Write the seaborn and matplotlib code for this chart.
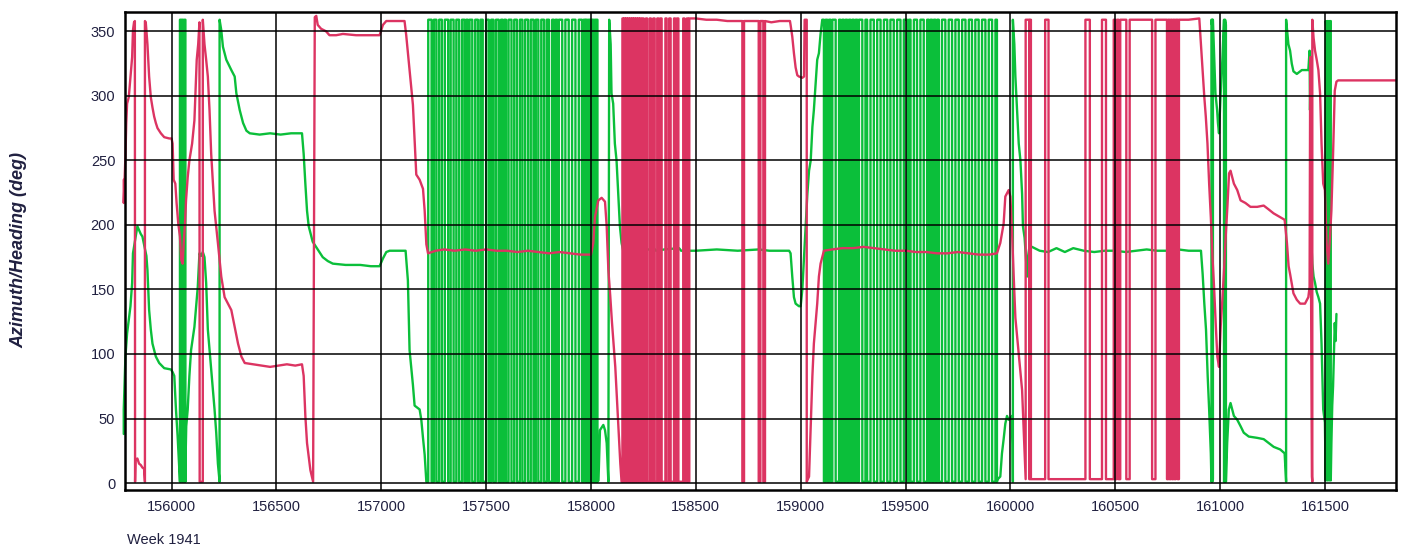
import matplotlib
matplotlib.use("Agg")
import matplotlib.pyplot as plt
import seaborn as sns

# time of week (s) / angle (deg)
G_START = [(155772, 38), (155772, 57), (155780, 98), (155788, 116), (155804, 137), (155812, 155),
           (155816, 178), (155837, 199), (155845, 196), (155853, 193), (155861, 191), (155880, 176),
           (155885, 165), (155893, 134), (155901, 119), (155909, 108), (155925, 98), (155941, 93),
           (155965, 89), (155997, 88), (156005, 86), (156013, 83), (156021, 57), (156029, 36),
           (156037, 10), (156040, 1)]
G_BAND1 = [156040, 156045, 156050, 156055, 156061, 156066]
G_MID = [(156067, 20), (156070, 44), (156077, 57), (156085, 83), (156093, 103), (156109, 121),
         (156125, 152), (156133, 178), (156141, 176), (156149, 179), (156157, 175), (156165, 155),
         (156173, 119), (156189, 88), (156205, 57), (156213, 39), (156221, 15), (156229, 1),
         (156229, 359), (156237, 351), (156245, 338), (156261, 328), (156285, 320), (156301, 315),
         (156309, 302), (156325, 289), (156341, 279), (156357, 273), (156373, 271), (156420, 270),
         (156470, 271), (156520, 270), (156570, 271), (156622, 271), (156630, 255), (156638, 232),
         (156646, 211), (156654, 199), (156673, 187), (156689, 183), (156705, 179), (156721, 175),
         (156745, 172), (156769, 170), (156830, 169), (156900, 169), (156950, 168), (156992, 168),
         (157008, 174), (157024, 179), (157040, 180), (157116, 180), (157127, 157), (157135, 103),
         (157151, 76), (157159, 60), (157183, 57), (157191, 49), (157199, 35), (157207, 22),
         (157215, 1)]
G_BAND2 = [157224, 157240, 157251, 157263, 157276, 157289, 157303, 157319, 157331, 157345,
           157358, 157371, 157385, 157397, 157405, 157413, 157421, 157434, 157448, 157461,
           157473, 157484, 157500, 157513, 157524, 157535, 157547, 157560, 157571, 157579,
           157587, 157595, 157607, 157621, 157634, 157647, 157661, 157673, 157686, 157700,
           157713, 157726, 157737, 157749, 157763, 157776, 157789, 157800, 157815, 157823,
           157831, 157839, 157847, 157863, 157878, 157894, 157910, 157926, 157942, 157957,
           157965, 157973, 157977, 157982, 157988, 157992, 157997, 158003, 158007, 158012,
           158018, 158022, 158027, 158031]
G_AFTER1 = [(158036, 2), (158043, 41), (158059, 45), (158067, 41), (158075, 31), (158083, 1),
            (158087, 359), (158094, 340), (158098, 302), (158106, 294), (158114, 263), (158122, 250),
            (158130, 224), (158138, 199), (158146, 186), (158154, 180), (158162, 175), (158170, 180),
            (158250, 180), (158300, 182), (158310, 180), (158350, 181), (158420, 182), (158430, 180),
            (158500, 180), (158600, 181), (158700, 180), (158800, 181), (158850, 180), (158900, 180),
            (158945, 180), (158952, 178), (158960, 160), (158968, 144), (158976, 139), (158992, 137),
            (159000, 137), (159008, 150), (159016, 175), (159024, 199), (159032, 224), (159040, 242),
            (159048, 250), (159056, 276), (159063, 289), (159079, 328), (159087, 333), (159095, 348),
            (159103, 359)]
G_BAND3 = [159111, 159119, 159127, 159135, 159143, 159151, 159167, 159183, 159190, 159198,
           159206, 159214, 159222, 159230, 159238, 159246, 159254, 159262, 159270, 159278,
           159294, 159309, 159317, 159333, 159349, 159365, 159381, 159397, 159413, 159428,
           159444, 159460, 159476, 159492, 159508, 159516, 159524, 159540, 159555, 159571,
           159587, 159603, 159611, 159619, 159627, 159635, 159643, 159651, 159659, 159674,
           159690, 159706, 159722, 159738, 159754, 159770, 159786, 159802, 159817, 159833,
           159849, 159865, 159881, 159897, 159913, 159929, 159936]
G_AFTER2 = [(159940, 3), (159952, 5), (159960, 23), (159968, 34), (159976, 46), (159984, 52),
            (159992, 49), (160000, 50), (160008, 52), (160011, 30), (160012, 1), (160012, 359),
            (160019, 340), (160024, 315), (160032, 289), (160040, 263), (160048, 250), (160056, 224),
            (160060, 199), (160068, 190), (160074, 175), (160080, 160), (160084, 175), (160090, 182),
            (160103, 183), (160140, 180), (160180, 179), (160220, 182), (160260, 179), (160300, 182),
            (160350, 180), (160400, 179), (160450, 180), (160500, 180), (160550, 179), (160600, 180),
            (160650, 181), (160700, 180), (160750, 180), (160800, 181), (160850, 180), (160909, 180),
            (160917, 162), (160925, 139), (160933, 119), (160941, 83), (160948, 57), (160956, 23),
            (160959, 1), (160959, 359), (160962, 355), (160963, 359), (160963, 1), (160966, 3),
            (160966, 359), (160970, 340), (160978, 302), (160986, 289), (160990, 279), (160995, 271),
            (161003, 302), (161011, 328), (161019, 359), (161019, 1), (161023, 5), (161024, 1),
            (161024, 359), (161028, 355), (161028, 1), (161034, 31), (161042, 57), (161050, 62),
            (161066, 52), (161082, 49), (161098, 44), (161113, 39), (161137, 36), (161177, 35),
            (161208, 34), (161232, 31), (161256, 28), (161287, 26), (161308, 23), (161315, 1),
            (161315, 359), (161326, 340), (161334, 335), (161342, 325), (161350, 319), (161366, 317),
            (161390, 320), (161421, 320), (161427, 335), (161429, 289), (161432, 320), (161436, 185),
            (161440, 170), (161446, 160), (161453, 155), (161461, 148), (161469, 144), (161477, 139),
            (161484, 108), (161492, 57), (161500, 47), (161504, 2), (161504, 358), (161508, 350),
            (161512, 358), (161512, 2), (161516, 8), (161520, 2), (161520, 358), (161524, 352),
            (161528, 358), (161528, 2), (161531, 31), (161535, 60), (161539, 75), (161543, 100),
            (161547, 124), (161551, 110), (161555, 131)]

R_START = [(155772, 235), (155772, 217), (155780, 253), (155784, 279), (155788, 294), (155796, 299),
           (155804, 315), (155812, 330), (155816, 351), (155821, 357), (155825, 358), (155826, 1),
           (155828, 18), (155837, 19), (155845, 15), (155853, 14), (155861, 12), (155869, 11),
           (155873, 1), (155873, 358), (155877, 357), (155885, 340), (155893, 315), (155901, 299),
           (155909, 291), (155917, 284), (155925, 279), (155933, 275), (155949, 271), (155965, 268),
           (155989, 267), (156000, 267), (156005, 263), (156010, 235), (156018, 232), (156024, 217),
           (156032, 201), (156040, 191), (156046, 173), (156053, 170), (156058, 186), (156064, 201),
           (156069, 219), (156077, 237), (156085, 250), (156098, 263), (156109, 281), (156117, 315),
           (156120, 328), (156127, 340), (156133, 357), (156134, 1), (156149, 1), (156149, 359),
           (156157, 340), (156165, 328), (156173, 315), (156181, 289), (156189, 255), (156205, 211),
           (156221, 186), (156237, 160), (156253, 144), (156269, 139), (156285, 134), (156301, 121),
           (156317, 108), (156333, 98), (156349, 93), (156389, 92), (156430, 91), (156470, 90),
           (156510, 91), (156550, 92), (156590, 91), (156622, 92), (156630, 83), (156638, 52),
           (156646, 31), (156662, 10), (156675, 1), (156683, 361), (156690, 362), (156697, 355),
           (156713, 352), (156737, 350), (156753, 347), (156785, 347), (156817, 348), (156880, 347),
           (156960, 347), (156992, 347), (157008, 355), (157024, 358), (157060, 358), (157111, 358),
           (157119, 347), (157135, 320), (157151, 293), (157159, 266), (157167, 239), (157183, 235),
           (157199, 228), (157207, 211), (157215, 185), (157223, 178), (157260, 180), (157300, 181),
           (157350, 180), (157400, 181), (157450, 180), (157500, 181), (157550, 180), (157600, 180),
           (157650, 179), (157700, 180), (157750, 179), (157800, 178), (157850, 179), (157900, 178),
           (157950, 177), (158000, 177), (158011, 186), (158019, 206), (158035, 219), (158051, 221),
           (158067, 218), (158075, 199), (158083, 165), (158092, 145), (158100, 125), (158108, 108),
           (158116, 90), (158124, 65), (158132, 40), (158140, 15), (158146, 1)]
R_BAND1 = [158150, 158154, 158158, 158163, 158167, 158172, 158176, 158181, 158186, 158190,
           158195, 158200, 158204, 158209, 158214, 158219, 158224, 158229, 158234, 158240,
           158246, 158252, 158262, 158268, 158280, 158286, 158297, 158304, 158316, 158322,
           158330, 158337, 158355, 158361, 158373, 158380, 158396, 158402, 158410, 158417,
           158440, 158446, 158457, 158463, 158469]
R_TOP = [(158500, 360), (158550, 359), (158600, 359), (158650, 358), (158700, 358), (158722, 358)]
R_BAND2 = [158722, 158730, 158800, 158808, 158822, 158830]
R_MID = [(158830, 358), (158860, 357), (158900, 358), (158949, 358), (158952, 355), (158960, 346),
         (158968, 333), (158976, 322), (158984, 316), (158992, 315), (159008, 314), (159016, 315),
         (159019, 359), (159029, 359), (159029, 1), (159040, 5), (159048, 44), (159056, 83),
         (159063, 108), (159071, 124), (159079, 139), (159087, 160), (159095, 170), (159103, 175),
         (159111, 180), (159150, 181), (159200, 182), (159250, 182), (159300, 183), (159350, 182),
         (159400, 181), (159450, 180), (159500, 180), (159550, 179), (159600, 179), (159650, 178),
         (159700, 178), (159750, 179), (159800, 178), (159850, 177), (159900, 177), (159936, 178),
         (159952, 186), (159968, 201), (159976, 222), (159992, 227), (160000, 222), (160008, 195),
         (160016, 160), (160024, 128), (160040, 100), (160056, 72), (160063, 44), (160069, 18),
         (160073, 3)]
R_BAND3 = [160073, 160090, 160094, 160098, 160166, 160182, 160358, 160379, 160437, 160456,
           160493, 160500, 160508, 160516, 160524, 160553, 160569, 160676, 160692, 160747,
           160753, 160759, 160765, 160771, 160777, 160783, 160789, 160798, 160804]
R_END = [(160850, 359), (160901, 360), (160909, 340), (160917, 320), (160925, 299), (160932, 284),
         (160940, 263), (160948, 232), (160956, 206), (160964, 175), (160972, 150), (160980, 121),
         (160987, 98), (160995, 90), (161003, 121), (161011, 142), (161019, 165), (161027, 191),
         (161035, 214), (161043, 240), (161050, 242), (161066, 232), (161082, 227), (161098, 219),
         (161121, 217), (161145, 214), (161177, 214), (161208, 215), (161232, 212), (161255, 209),
         (161287, 206), (161308, 204), (161319, 186), (161327, 168), (161334, 162), (161350, 147),
         (161366, 142), (161382, 139), (161405, 139), (161421, 144), (161427, 152), (161430, 330),
         (161434, 150), (161438, 5), (161440, 1), (161440, 359), (161446, 345), (161453, 335),
         (161461, 328), (161469, 320), (161477, 302), (161484, 263), (161492, 232), (161500, 227),
         (161508, 186), (161516, 170), (161524, 190), (161531, 211), (161539, 255), (161547, 304),
         (161555, 311), (161563, 312), (161839, 312)]

X_TICKS = list(range(156000, 161501, 500))
Y_TICKS = list(range(0, 351, 50))


def square(times, start, lo, hi):
    # angle flipping between 0 and 360 at the read wrap times
    pts = []
    level = start
    for t in times:
        pts.append((t, level))
        level = hi if level == lo else lo
        pts.append((t, level))
    return pts


green = (G_START + square(G_BAND1, 1, 1, 359) + G_MID + square(G_BAND2, 1, 1, 359)
         + G_AFTER1 + square(G_BAND3, 359, 1, 359) + G_AFTER2)
red = (R_START + square(R_BAND1, 1, 1, 360) + R_TOP + square(R_BAND2, 358, 1, 358)
       + R_MID + square(R_BAND3, 3, 3, 359) + R_END)

sns.set_style("white")
plt.rcParams['font.family'] = ['Liberation Sans', 'DejaVu Sans']

fig = plt.figure(figsize=(14.03, 5.5), dpi=100)
ax = fig.add_axes([0.0891, 0.1091, 0.9059, 0.8691])

sns.lineplot(x=[p[0] for p in green], y=[p[1] for p in green], sort=False, estimator=None,
             color='#0bbf3a', lw=1.7, ax=ax, clip_on=False)
sns.lineplot(x=[p[0] for p in red], y=[p[1] for p in red], sort=False, estimator=None,
             color='#dc3462', lw=1.7, ax=ax, clip_on=False)

ax.set_xlim(155778, 161839)
ax.set_ylim(-5.4, 365)
ax.set_xticks(X_TICKS)
ax.set_yticks(Y_TICKS)
ax.set_xlabel('')
ax.set_ylabel('')
ax.set_axisbelow(False)
ax.grid(True, color='black', lw=1.1)
for s in ax.spines.values():
    s.set_color('black')
    s.set_linewidth(1.8)
ax.tick_params(direction='out', length=5, width=1.1, color='black', labelcolor='#202040',
               labelsize=10.5, pad=2)

fig.text(0.0135, 0.545, 'Azimuth/Heading (deg)', rotation=90, fontsize=13, fontweight='bold',
         fontstyle='italic', ha='center', va='center', color='#202040')
fig.text(127 / 1403, 1 - 540 / 550, 'Week 1941', fontsize=10.5, ha='left', va='center', color='#202040')

fig.savefig('out.png', dpi=100)
